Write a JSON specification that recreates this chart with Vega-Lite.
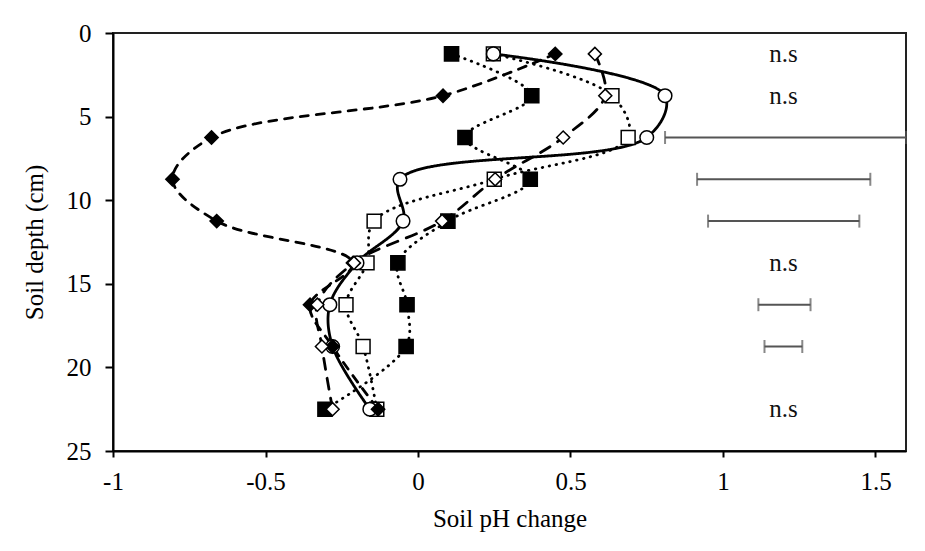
{
  "$schema": "https://vega.github.io/schema/vega-lite/v6.json",
  "width": 793,
  "height": 418,
  "autosize": "none",
  "padding": {"left": 113, "top": 33, "right": 19, "bottom": 100},
  "background": "white",
  "config": {
    "view": {"stroke": "#222", "strokeWidth": 2},
    "font": "Liberation Serif"
  },
  "datasets": {
    "profiles": [
      {"series": "A", "depth": 1.25, "ph": 0.11},
      {"series": "A", "depth": 3.75, "ph": 0.373},
      {"series": "A", "depth": 6.25, "ph": 0.154},
      {"series": "A", "depth": 8.75, "ph": 0.368},
      {"series": "A", "depth": 11.25, "ph": 0.098},
      {"series": "A", "depth": 13.75, "ph": -0.066},
      {"series": "A", "depth": 16.25, "ph": -0.036},
      {"series": "A", "depth": 18.75, "ph": -0.039},
      {"series": "A", "depth": 22.5, "ph": -0.305},
      {"series": "B", "depth": 1.25, "ph": 0.247},
      {"series": "B", "depth": 3.75, "ph": 0.636},
      {"series": "B", "depth": 6.25, "ph": 0.689},
      {"series": "B", "depth": 8.75, "ph": 0.25},
      {"series": "B", "depth": 11.25, "ph": -0.144},
      {"series": "B", "depth": 13.75, "ph": -0.167},
      {"series": "B", "depth": 16.25, "ph": -0.236},
      {"series": "B", "depth": 18.75, "ph": -0.18},
      {"series": "B", "depth": 22.5, "ph": -0.135},
      {"series": "C", "depth": 1.25, "ph": 0.247},
      {"series": "C", "depth": 3.75, "ph": 0.81},
      {"series": "C", "depth": 6.25, "ph": 0.75},
      {"series": "C", "depth": 8.75, "ph": -0.059},
      {"series": "C", "depth": 11.25, "ph": -0.049},
      {"series": "C", "depth": 13.75, "ph": -0.2},
      {"series": "C", "depth": 16.25, "ph": -0.289},
      {"series": "C", "depth": 18.75, "ph": -0.28},
      {"series": "C", "depth": 22.5, "ph": -0.158},
      {"series": "D", "depth": 1.25, "ph": 0.45},
      {"series": "D", "depth": 3.75, "ph": 0.082},
      {"series": "D", "depth": 6.25, "ph": -0.677},
      {"series": "D", "depth": 8.75, "ph": -0.805},
      {"series": "D", "depth": 11.25, "ph": -0.66},
      {"series": "D", "depth": 13.75, "ph": -0.213},
      {"series": "D", "depth": 16.25, "ph": -0.354},
      {"series": "D", "depth": 18.75, "ph": -0.28},
      {"series": "D", "depth": 22.5, "ph": -0.131},
      {"series": "E", "depth": 1.25, "ph": 0.58},
      {"series": "E", "depth": 3.75, "ph": 0.614},
      {"series": "E", "depth": 6.25, "ph": 0.476},
      {"series": "E", "depth": 8.75, "ph": 0.253},
      {"series": "E", "depth": 11.25, "ph": 0.079},
      {"series": "E", "depth": 13.75, "ph": -0.21},
      {"series": "E", "depth": 16.25, "ph": -0.33},
      {"series": "E", "depth": 18.75, "ph": -0.315},
      {"series": "E", "depth": 22.5, "ph": -0.28}
    ],
    "lsd": [
      {"depth": 6.25, "ph": 0.81, "ph2": 1.6},
      {"depth": 8.75, "ph": 0.915, "ph2": 1.483},
      {"depth": 11.25, "ph": 0.951, "ph2": 1.447},
      {"depth": 16.25, "ph": 1.116, "ph2": 1.287},
      {"depth": 18.75, "ph": 1.136, "ph2": 1.26}
    ],
    "ns": [
      {"depth": 1.25, "ph": 1.198, "label": "n.s"},
      {"depth": 3.75, "ph": 1.198, "label": "n.s"},
      {"depth": 13.75, "ph": 1.198, "label": "n.s"},
      {"depth": 22.5, "ph": 1.198, "label": "n.s"}
    ]
  },
  "layer": [
    {
      "data": {"name": "profiles"},
      "mark": {"type": "line", "interpolate": "catmull-rom", "strokeWidth": 2.8, "strokeCap": "round", "color": "black"},
      "encoding": {
        "x": {
          "field": "ph", "type": "quantitative",
          "scale": {"domain": [-1, 1.6], "nice": false, "zero": false},
          "axis": {
            "values": [-1, -0.5, 0, 0.5, 1, 1.5],
            "labelExpr": "'' + datum.value",
            "title": "Soil pH change",
            "grid": false,
            "domainColor": "black", "domainWidth": 2,
            "tickColor": "black", "tickWidth": 2, "tickSize": 6,
            "labelFont": "Liberation Serif", "labelFontSize": 25, "labelColor": "black",
            "labelPadding": 12, "labelFlush": false, "labelOverlap": false,
            "titleFont": "Liberation Serif", "titleFontSize": 25, "titleFontWeight": "normal",
            "titleColor": "black", "titlePadding": 12
          }
        },
        "y": {
          "field": "depth", "type": "quantitative",
          "scale": {"domain": [0, 25], "reverse": true, "nice": false, "zero": false},
          "axis": {
            "values": [0, 5, 10, 15, 20, 25],
            "title": "Soil depth (cm)",
            "grid": false,
            "domainColor": "black", "domainWidth": 2,
            "tickColor": "black", "tickWidth": 2, "tickSize": 8,
            "labelFont": "Liberation Serif", "labelFontSize": 25, "labelColor": "black",
            "labelPadding": 14, "labelFlush": false, "labelOverlap": false,
            "titleFont": "Liberation Serif", "titleFontSize": 25, "titleFontWeight": "normal",
            "titleColor": "black", "titlePadding": 19
          }
        },
        "detail": {"field": "series", "type": "nominal"},
        "order": {"field": "depth", "type": "quantitative"},
        "strokeDash": {
          "field": "series", "type": "nominal", "legend": null,
          "scale": {"domain": ["A", "B", "C", "D", "E"], "range": [[0.5, 6.5], [0.5, 6.5], [1, 0], [8, 8], [11, 9]]}
        }
      }
    },
    {
      "data": {"name": "profiles"},
      "mark": {"type": "point", "filled": true, "stroke": "black", "strokeWidth": 1.5, "opacity": 1},
      "encoding": {
        "x": {"field": "ph", "type": "quantitative", "scale": {"domain": [-1, 1.6], "nice": false, "zero": false}},
        "y": {"field": "depth", "type": "quantitative", "scale": {"domain": [0, 25], "reverse": true, "nice": false, "zero": false}},
        "shape": {
          "field": "series", "type": "nominal", "legend": null,
          "scale": {"domain": ["A", "B", "C", "D", "E"], "range": ["square", "square", "circle", "diamond", "diamond"]}
        },
        "fill": {
          "field": "series", "type": "nominal", "legend": null,
          "scale": {"domain": ["A", "B", "C", "D", "E"], "range": ["black", "white", "white", "black", "white"]}
        },
        "size": {
          "field": "series", "type": "nominal", "legend": null,
          "scale": {"domain": ["A", "B", "C", "D", "E"], "range": [200, 170, 160, 230, 200]}
        }
      }
    },
    {
      "data": {"name": "lsd"},
      "mark": {"type": "rule", "color": "#555", "strokeWidth": 2},
      "encoding": {
        "x": {"field": "ph", "type": "quantitative"},
        "x2": {"field": "ph2"},
        "y": {"field": "depth", "type": "quantitative"}
      }
    },
    {
      "data": {"name": "lsd"},
      "mark": {"type": "tick", "orient": "vertical", "color": "#555", "size": 13, "thickness": 2},
      "encoding": {
        "x": {"field": "ph", "type": "quantitative"},
        "y": {"field": "depth", "type": "quantitative"}
      }
    },
    {
      "data": {"name": "lsd"},
      "mark": {"type": "tick", "orient": "vertical", "color": "#555", "size": 13, "thickness": 2},
      "encoding": {
        "x": {"field": "ph2", "type": "quantitative"},
        "y": {"field": "depth", "type": "quantitative"}
      }
    },
    {
      "data": {"name": "ns"},
      "mark": {"type": "text", "font": "Liberation Serif", "fontSize": 25, "color": "#111", "align": "center", "baseline": "middle"},
      "encoding": {
        "x": {"field": "ph", "type": "quantitative"},
        "y": {"field": "depth", "type": "quantitative"},
        "text": {"field": "label", "type": "nominal"}
      }
    }
  ]
}
